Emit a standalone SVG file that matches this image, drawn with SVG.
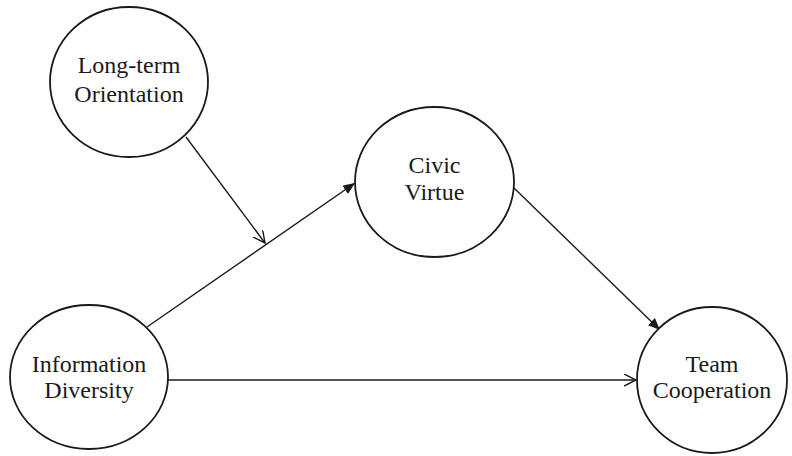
<svg xmlns="http://www.w3.org/2000/svg" width="792" height="456" viewBox="0 0 792 456">
<style>
.node{fill:#fff;stroke:#1a1a1a;stroke-width:1.8}
.lbl{font-family:"Liberation Serif","Times New Roman",serif;font-size:24px;fill:#1a1a1a;text-anchor:middle}
.edge{stroke:#1a1a1a;stroke-width:1.4;fill:none}
</style>
<defs>
<marker id="filled" markerUnits="userSpaceOnUse" markerWidth="14" markerHeight="12" refX="12" refY="5" orient="auto">
<path d="M0,0 L12,5 L0,10 Z" fill="#1a1a1a"/>
</marker>
<marker id="open" markerUnits="userSpaceOnUse" markerWidth="14" markerHeight="14" refX="12" refY="6" orient="auto">
<path d="M0,0 L12,6 L0,12" fill="none" stroke="#1a1a1a" stroke-width="1.4"/>
</marker>
</defs>
<rect width="792" height="456" fill="#fff"/>
<g id="connectors">
<line class="edge" x1="186" y1="137" x2="265" y2="243" marker-end="url(#open)"/>
<line class="edge" x1="147" y1="327" x2="355" y2="183" marker-end="url(#filled)"/>
<line class="edge" x1="168" y1="380" x2="636" y2="380" marker-end="url(#open)"/>
<line class="edge" x1="514" y1="188" x2="660" y2="330" marker-end="url(#filled)"/>
</g>
<g id="long-term-orientation">
<ellipse class="node" cx="129" cy="82" rx="79" ry="75"/>
<text class="lbl" x="129" y="73">Long-term</text>
<text class="lbl" x="129" y="102">Orientation</text>
</g>
<g id="civic-virtue">
<ellipse class="node" cx="434.5" cy="182" rx="79.5" ry="75"/>
<text class="lbl" x="434.5" y="173">Civic</text>
<text class="lbl" x="434.5" y="200">Virtue</text>
</g>
<g id="information-diversity">
<ellipse class="node" cx="89" cy="377" rx="79" ry="72"/>
<text class="lbl" x="89" y="372">Information</text>
<text class="lbl" x="89" y="398">Diversity</text>
</g>
<g id="team-cooperation">
<ellipse class="node" cx="712" cy="380" rx="75" ry="73"/>
<text class="lbl" x="712" y="372">Team</text>
<text class="lbl" x="712" y="398">Cooperation</text>
</g>
</svg>
